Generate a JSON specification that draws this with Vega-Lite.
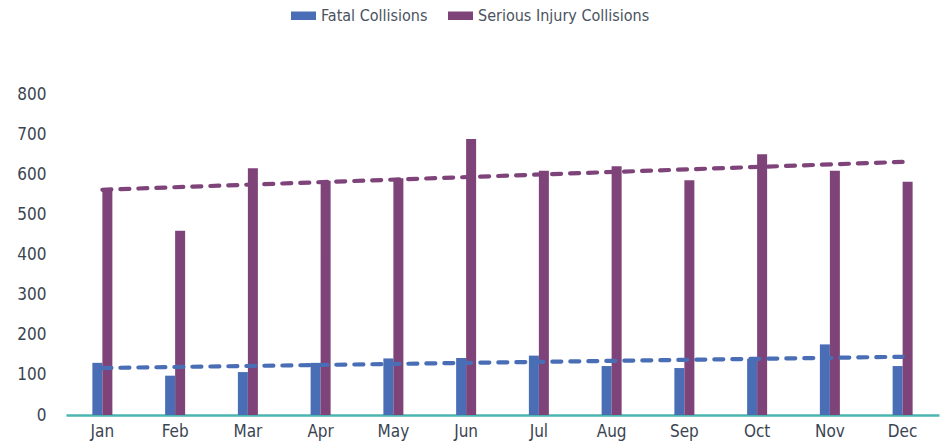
{
  "$schema": "https://vega.github.io/schema/vega-lite/v6.json",
  "width": 873,
  "height": 321,
  "autosize": "none",
  "padding": {"left": 66, "top": 94, "right": 8, "bottom": 33},
  "background": "white",
  "config": {
    "view": {"stroke": null},
    "font": "'DejaVu Sans Condensed', 'Roboto Condensed', Roboto, sans-serif",
    "axis": {"grid": false, "ticks": false, "labelColor": "#3b4452", "labelFontSize": 17, "title": null}
  },
  "datasets": {
    "collisions": [
      {"m": 1, "month": "Jan", "series": "Fatal Collisions", "value": 130},
      {"m": 1, "month": "Jan", "series": "Serious Injury Collisions", "value": 563},
      {"m": 2, "month": "Feb", "series": "Fatal Collisions", "value": 98},
      {"m": 2, "month": "Feb", "series": "Serious Injury Collisions", "value": 459},
      {"m": 3, "month": "Mar", "series": "Fatal Collisions", "value": 107},
      {"m": 3, "month": "Mar", "series": "Serious Injury Collisions", "value": 615},
      {"m": 4, "month": "Apr", "series": "Fatal Collisions", "value": 130},
      {"m": 4, "month": "Apr", "series": "Serious Injury Collisions", "value": 584},
      {"m": 5, "month": "May", "series": "Fatal Collisions", "value": 141},
      {"m": 5, "month": "May", "series": "Serious Injury Collisions", "value": 590},
      {"m": 6, "month": "Jun", "series": "Fatal Collisions", "value": 142},
      {"m": 6, "month": "Jun", "series": "Serious Injury Collisions", "value": 688},
      {"m": 7, "month": "Jul", "series": "Fatal Collisions", "value": 148},
      {"m": 7, "month": "Jul", "series": "Serious Injury Collisions", "value": 609},
      {"m": 8, "month": "Aug", "series": "Fatal Collisions", "value": 122},
      {"m": 8, "month": "Aug", "series": "Serious Injury Collisions", "value": 620},
      {"m": 9, "month": "Sep", "series": "Fatal Collisions", "value": 117},
      {"m": 9, "month": "Sep", "series": "Serious Injury Collisions", "value": 585},
      {"m": 10, "month": "Oct", "series": "Fatal Collisions", "value": 140},
      {"m": 10, "month": "Oct", "series": "Serious Injury Collisions", "value": 650},
      {"m": 11, "month": "Nov", "series": "Fatal Collisions", "value": 176},
      {"m": 11, "month": "Nov", "series": "Serious Injury Collisions", "value": 609},
      {"m": 12, "month": "Dec", "series": "Fatal Collisions", "value": 122},
      {"m": 12, "month": "Dec", "series": "Serious Injury Collisions", "value": 581}
    ],
    "months": [
      {"m": 1, "month": "Jan"}, {"m": 2, "month": "Feb"}, {"m": 3, "month": "Mar"},
      {"m": 4, "month": "Apr"}, {"m": 5, "month": "May"}, {"m": 6, "month": "Jun"},
      {"m": 7, "month": "Jul"}, {"m": 8, "month": "Aug"}, {"m": 9, "month": "Sep"},
      {"m": 10, "month": "Oct"}, {"m": 11, "month": "Nov"}, {"m": 12, "month": "Dec"}
    ]
  },
  "data": {"name": "collisions"},
  "layer": [
    {
      "mark": {"type": "bar"},
      "encoding": {
        "x": {
          "field": "month", "type": "nominal",
          "sort": ["Jan","Feb","Mar","Apr","May","Jun","Jul","Aug","Sep","Oct","Nov","Dec"],
          "scale": {"paddingInner": 0.725, "paddingOuter": 0.3625},
          "axis": {"labelAngle": 0, "domainColor": "#4bb5b0", "domainWidth": 2.5, "labelPadding": 8}
        },
        "xOffset": {"field": "series", "type": "nominal", "scale": {"paddingInner": 0, "paddingOuter": 0}},
        "y": {
          "field": "value", "type": "quantitative",
          "scale": {"domain": [0, 800]},
          "axis": {"values": [0,100,200,300,400,500,600,700,800], "domain": false, "labelPadding": 20}
        },
        "color": {
          "field": "series", "type": "nominal",
          "scale": {"domain": ["Fatal Collisions", "Serious Injury Collisions"], "range": ["#4a6eb5", "#7e4379"]},
          "legend": {
            "orient": "none", "legendX": 225, "legendY": -91, "direction": "horizontal", "title": null,
            "symbolType": "M-1,-0.34H1V0.34H-1Z", "symbolSize": 625, "symbolStrokeWidth": 0,
            "labelFontSize": 16, "labelColor": "#4a5260", "labelOffset": 5, "labelLimit": 400, "columnPadding": 20
          }
        }
      }
    },
    {
      "transform": [
        {"regression": "value", "on": "m", "groupby": ["series"]},
        {"lookup": "m", "from": {"data": {"name": "months"}, "key": "m", "fields": ["month"]}}
      ],
      "mark": {"type": "line", "strokeDash": [9, 9], "strokeWidth": 4.2, "strokeCap": "round"},
      "encoding": {
        "x": {
          "field": "month", "type": "nominal",
          "sort": ["Jan","Feb","Mar","Apr","May","Jun","Jul","Aug","Sep","Oct","Nov","Dec"]
        },
        "y": {"field": "value", "type": "quantitative"},
        "color": {"field": "series", "type": "nominal", "legend": null}
      }
    }
  ]
}
